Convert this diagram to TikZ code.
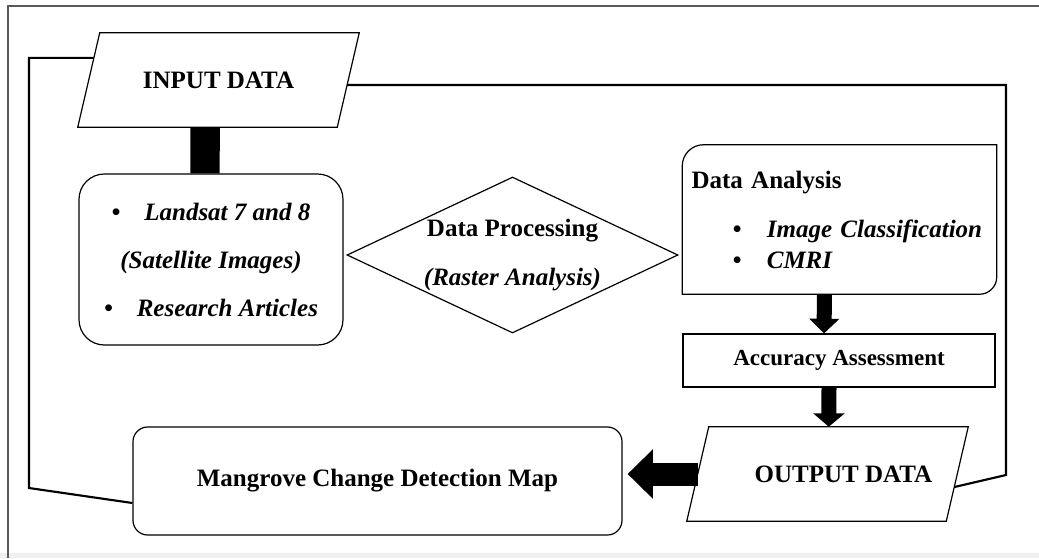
\documentclass[tikz,border=0pt]{standalone}
\usepackage{fontspec}
\setmainfont{Liberation Serif}
\usetikzlibrary{arrows.meta,calc,shapes.geometric}

\tikzset{
	box/.style={draw, line width=0.9pt, font=\fontsize{18.75}{22.5}\selectfont\bfseries},
	iobox/.style={font=\fontsize{18.75}{22.5}\selectfont\bfseries, minimum width=194.25pt, minimum height=70.5pt, inner sep=0pt},
	backline/.style={line width=1.6pt},
}

\begin{document}
\begin{tikzpicture}[x=0.75pt,y=-0.75pt]
	\useasboundingbox (0,0) rectangle (1039,558);
	% frame
	\fill[black!6] (0,553) rectangle (1039,558);
	\draw[black!65, line width=1.1pt] (8,558) -- (8,6) -- (1039,6);
	
	\node[iobox] (inp) at (218.5,80) {INPUT DATA};
	\draw[line width=0.9pt] ([xshift=8.25pt]inp.north west) coordinate (inp-tl) -- ([xshift=8.25pt]inp.north east) coordinate (inp-tr)
		-- ([xshift=-8.25pt]inp.south east) coordinate (inp-br) -- ([xshift=-8.25pt]inp.south west) coordinate (inp-bl) -- cycle;
	\node[box, rounded corners=19pt, minimum width=198pt, minimum height=128.25pt, align=center,
		font=\fontsize{18.75}{36}\selectfont\bfseries\itshape] (src) at (211,259.5)
		{\textbullet\hspace{18pt}Landsat 7 and 8\\(Satellite Images)\\\textbullet\hspace{18pt}Research Articles};
	\node[box, diamond, aspect=2.12, minimum width=248.25pt, minimum height=117pt, inner sep=0pt, align=center,
		font=\fontsize{18.75}{36.75}\selectfont\bfseries] (proc) at (512.5,255)
		{Data Processing\\\textit{(Raster Analysis)}};
	\node[font=\fontsize{18.75}{23.25}\selectfont\bfseries, text width=222pt, align=left,
		minimum height=111.75pt, inner xsep=6.75pt] (ana) at (839.5,219.5)
		{Data Analysis\\[13.5pt]
		\hspace*{31pt}\makebox[25.5pt][l]{\textbullet}\textit{Image Classification}\\
		\hspace*{31pt}\makebox[25.5pt][l]{\textbullet}\textit{CMRI}};
	\draw[line width=0.9pt] ([yshift=-16pt]ana.north west) arc[start angle=180, end angle=90, radius=16pt]
		-- (ana.north east) -- ([yshift=13pt]ana.south east) arc[start angle=0, end angle=-90, radius=13pt]
		-- (ana.south west) -- cycle;
	\node[box, minimum width=234pt, minimum height=39.75pt, font=\fontsize{17.25}{20}\selectfont\bfseries]
		(acc) at (839,360.5) {Accuracy Assessment};
	\node[iobox] (out) at (827.5,474) {\hspace*{24pt}OUTPUT DATA};
	\draw[line width=0.9pt] ([xshift=8.25pt]out.north west) coordinate (out-tl) -- ([xshift=8.25pt]out.north east) coordinate (out-tr)
		-- ([xshift=-8.25pt]out.south east) coordinate (out-br) -- ([xshift=-8.25pt]out.south west) coordinate (out-bl) -- cycle;
	\node[box, rounded corners=11pt, minimum width=366.75pt, minimum height=81pt] (mg) at (377.5,481)
		{Mangrove Change Detection Map};
	
	% thick links
	\draw[line width=22pt] ([xshift=-10pt]inp.south) -- ([xshift=-4.5pt]src.north);
	\draw[line width=11.25pt, -{Triangle[width=22pt,length=11pt]}] ([xshift=-11.25pt]ana.south) -- ([xshift=-11.25pt]acc.north);
	\draw[line width=11.25pt, -{Triangle[width=23pt,length=10pt]}] ([xshift=-7.5pt]acc.south) -- ([xshift=1pt]out.north);
	\coordinate (outL) at ($(out-bl)!0.5!(out-tl)$);
	\draw[line width=17.25pt, -{Triangle[width=36pt,length=19pt]}, shorten >=3.75pt] (outL) -- (outL -| mg.east);
	
	% feedback lines
	\coordinate (cornerL) at (29,488);
	\coordinate (cornerR) at (1006,475);
	\draw[backline] ($(inp-bl)!0.734!(inp-tl)$) -| (cornerL) -- ([yshift=-16.5pt]mg.west);
	\draw[backline] ($(inp-br)!0.447!(inp-tr)$) -| (cornerR) -- ($(out-br)!0.362!(out-tr)$);
\end{tikzpicture}
\end{document}
